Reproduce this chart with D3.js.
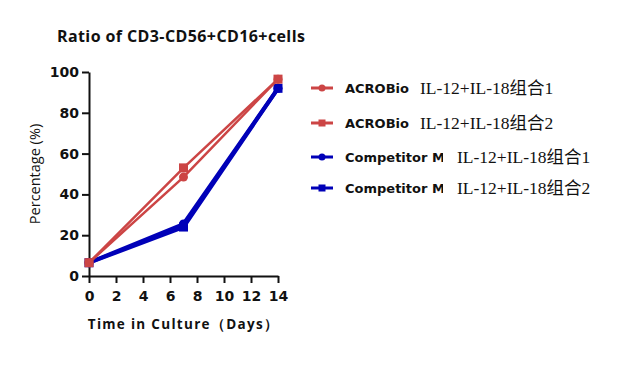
<!DOCTYPE html>
<html>
<head>
<meta charset="utf-8">
<script src="https://cdn.jsdelivr.net/npm/d3@7"></script>
<style>
  body { margin: 0; background: #fff; }
  svg { display: block; }
</style>
</head>
<body>
<svg id="chart" width="621" height="376"></svg>
<script>
// data
const days = [0, 7, 14];
const acro1 = [6.5, 48.5, 96.5];
const acro2 = [6.5, 53, 96.5];
const comp1 = [6.5, 25.5, 92];
const comp2 = [6.5, 24, 92];
const xTicks = [0, 2, 4, 6, 8, 10, 12, 14];
const yTicks = [0, 20, 40, 60, 80, 100];
const seriesNames = ["ACROBio", "ACROBio", "Competitor M", "Competitor M"];
const seriesTags = ["IL-12+IL-18组合1", "IL-12+IL-18组合2", "IL-12+IL-18组合1", "IL-12+IL-18组合2"];

const red = "#cc4545", blue = "#0000b8";

const series = [
    {name: seriesNames[0], tag: seriesTags[0], values: acro1, color: red, shape: "circle", lw: 2.5},
    {name: seriesNames[1], tag: seriesTags[1], values: acro2, color: red, shape: "square", lw: 2.5},
    {name: seriesNames[2], tag: seriesTags[2], values: comp1, color: blue, shape: "circle", lw: 4},
    {name: seriesNames[3], tag: seriesTags[3], values: comp2, color: blue, shape: "square", lw: 4}
];

let svg = d3.select("#chart"),
    margin = {left: 89, right: 343, top: 72, bottom: 100},
    plotW = 621 - margin.left - margin.right,
    plotH = 376 - margin.top - margin.bottom;

let xScale = d3.scaleLinear().domain([0, 14]).range([margin.left, margin.left + plotW]);
let yScale = d3.scaleLinear().domain([0, 100]).range([margin.top + plotH, margin.top]);

const sans = "'Open Sans', 'DejaVu Sans', sans-serif";
const wide = "'DejaVu Sans', sans-serif";

// title
svg.append("text")
    .attr("x", 57).attr("y", 42)
    .style("font-family", sans).style("font-weight", "bold").style("font-size", "16px")
    .style("letter-spacing", "0.4px")
    .attr("fill", "#111")
    .text("Ratio of CD3-CD56+CD16+cells");

// axes
let xAxis = svg.append("g")
    .attr("transform", `translate(0,${margin.top + plotH})`)
    .call(d3.axisBottom(xScale).tickValues(xTicks).tickSize(7).tickPadding(8).tickSizeOuter(0));

let yAxis = svg.append("g")
    .attr("transform", `translate(${margin.left},0)`)
    .call(d3.axisLeft(yScale).tickValues(yTicks).tickSize(7).tickPadding(3).tickSizeOuter(0));

[xAxis, yAxis].forEach(function(g){
    g.selectAll("path, line").attr("stroke", "#111").attr("stroke-width", 2);
    g.selectAll("text")
        .style("font-family", wide).style("font-weight", "bold").style("font-size", "14px")
        .attr("fill", "#111");
});

svg.append("text")
    .attr("x", xScale(7)).attr("y", 329)
    .attr("text-anchor", "middle")
    .style("font-family", sans).style("font-weight", "bold").style("font-size", "13.5px")
    .style("letter-spacing", "1.3px")
    .attr("fill", "#111")
    .text("Time in Culture（Days）");

svg.append("text")
    .attr("transform", `translate(40,${yScale(50)}) rotate(-90)`)
    .attr("text-anchor", "middle")
    .style("font-family", sans).style("font-size", "14.5px")
    .attr("fill", "#111")
    .text("Percentage (%)");

// lines + markers
let line = d3.line()
    .x(function(d, i){ return xScale(days[i]) })
    .y(function(d){ return yScale(d) });

const drawMarker = function(g, shape, color, cx, cy, size){
    if(shape === "circle"){
        g.append("circle").attr("cx", cx).attr("cy", cy).attr("r", size / 2).attr("fill", color);
    }else{
        g.append("rect").attr("x", cx - size / 2).attr("y", cy - size / 2)
            .attr("width", size).attr("height", size).attr("fill", color);
    }
};

// draw blue first so red sits on top at day 0
[2, 3, 0, 1].forEach(function(k){
    let s = series[k];
    let g = svg.append("g");
    g.append("path")
        .datum(s.values)
        .attr("d", line)
        .attr("fill", "none")
        .attr("stroke", s.color)
        .attr("stroke-width", s.lw);
    s.values.forEach(function(v, i){
        drawMarker(g, s.shape, s.color, xScale(days[i]), yScale(v), 9);
    });
});

// legend (names are cut off at x=443 in the source)
svg.append("clipPath").attr("id", "nameclip")
    .append("rect").attr("x", 300).attr("y", 60).attr("width", 143).attr("height", 150);

const legendY = [88, 123, 157, 188];
const tagX = [420, 420, 457, 457];
series.forEach(function(s, i){
    let g = svg.append("g");
    let y = legendY[i];
    g.append("line").attr("x1", 311).attr("x2", 333).attr("y1", y).attr("y2", y)
        .attr("stroke", s.color).attr("stroke-width", 3);
    drawMarker(g, s.shape, s.color, 322, y, 7);
    g.append("text")
        .attr("x", 345).attr("y", y + 5)
        .attr("clip-path", "url(#nameclip)")
        .style("font-family", wide).style("font-weight", "bold").style("font-size", "13px")
        .attr("fill", "#111")
        .text(s.name);
    g.append("text")
        .attr("x", tagX[i]).attr("y", y + 6)
        .style("font-family", "'Liberation Serif', 'Noto Sans CJK SC', serif").style("font-size", "17.5px")
        .attr("fill", "#111")
        .text(s.tag);
});
</script>
</body>
</html>
